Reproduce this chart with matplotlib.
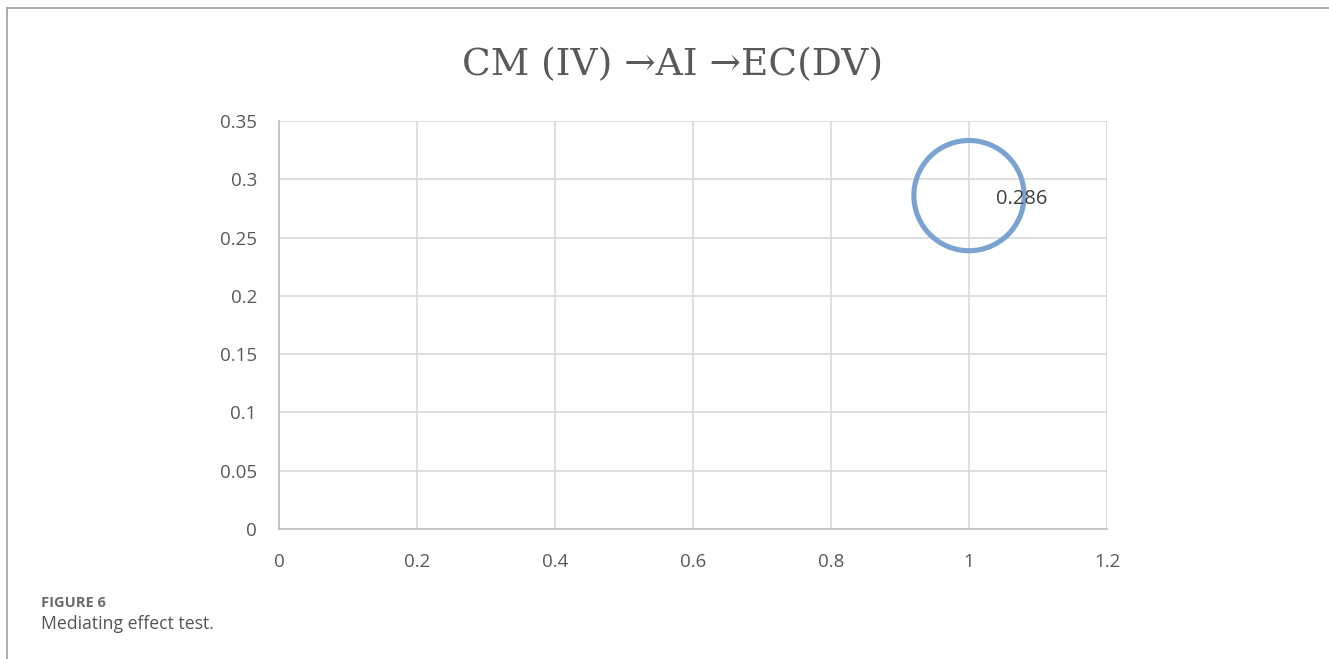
import matplotlib.pyplot as plt
from matplotlib.lines import Line2D

# data
x_vals = [1.0]
y_vals = [0.286]
labels = ["0.286"]
xticks = [0, 0.2, 0.4, 0.6, 0.8, 1, 1.2]
yticks = [0, 0.05, 0.1, 0.15, 0.2, 0.25, 0.3, 0.35]

fig = plt.figure(figsize=(13.29, 6.59), dpi=100)
W, H = 1329, 659
ax = fig.add_axes([279 / W, 1 - 529 / H, (1107 - 279) / W, (529 - 121) / H])

ax.scatter(x_vals, y_vals, s=6300, facecolors="none", edgecolors="#7BA3D2",
           linewidths=3.7, zorder=3, clip_on=False)
for x, y, t in zip(x_vals, y_vals, labels):
    ax.annotate(t, (x, y), xytext=(19.5, -2.5), textcoords="offset points",
                ha="left", va="center", fontsize=14.5, color="#404040",
                family="Open Sans", zorder=4)

ax.set_xlim(0, 1.2)
ax.set_ylim(0, 0.35)
ax.set_xticks(xticks)
ax.set_yticks(yticks)
ax.set_xticklabels([f"{v:g}" for v in xticks])
ax.set_yticklabels([f"{v:g}" for v in yticks])
ax.grid(True, color="#D9D9D9", linewidth=1.2)
ax.set_axisbelow(True)
for s in ["top", "right"]:
    ax.spines[s].set_visible(False)
for s in ["left", "bottom"]:
    ax.spines[s].set_color("#BFBFBF")
    ax.spines[s].set_linewidth(1.2)
ax.tick_params(axis="y", length=0, labelsize=13.5, labelcolor="#595959", pad=16)
ax.tick_params(axis="x", length=0, labelsize=13.5, labelcolor="#595959", pad=17)
for lab in ax.get_xticklabels() + ax.get_yticklabels():
    lab.set_family("Open Sans")

fig.text(673 / W, 1 - 65 / H, "CM (IV) \u2192AI \u2192EC(DV)", ha="center", va="center",
         fontsize=27, color="#595959", family="DejaVu Serif")

# outer frame lines (top and left)
fig.add_artist(Line2D([7 / W, 1], [1 - 8 / H, 1 - 8 / H], color="#A0A0A0", lw=1.2))
fig.add_artist(Line2D([7 / W, 7 / W], [0, 1 - 8 / H], color="#A0A0A0", lw=1.2))

fig.text(41 / W, 1 - 603 / H, "FIGURE 6", ha="left", va="center", fontsize=10.5,
         fontweight="bold", color="#6b6b6b", family="Open Sans")
fig.text(41 / W, 1 - 624 / H, "Mediating effect test.", ha="left", va="center",
         fontsize=12.7, color="#555555", family="Open Sans")

fig.savefig("out.png", dpi=100)
